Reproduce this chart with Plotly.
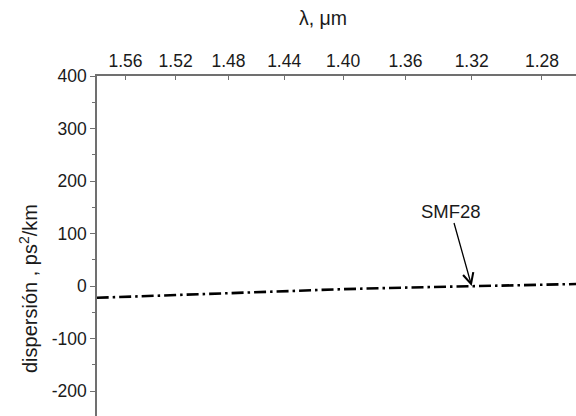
import plotly.graph_objects as go

# Wavelength samples (um) and group-velocity dispersion beta2 (ps^2/km) of SMF28
wavelength_um = [1.584, 1.56, 1.52, 1.48, 1.44, 1.40, 1.36, 1.32, 1.28, 1.261]
beta2_smf28 = [-22.5, -20.5, -17.0, -13.5, -10.0, -6.0, -3.0, 0.0, 2.5, 3.8]

# Wavelength tick labels on the top axis (axis is linear in optical frequency)
tick_wavelengths = [1.56, 1.52, 1.48, 1.44, 1.40, 1.36, 1.32, 1.28]
y_ticks = [400, 300, 200, 100, 0, -100, -200]

inv = lambda lam: 1.0 / lam  # inverse wavelength, um^-1

FONT = "Liberation Sans, Arial, sans-serif"
AXIS_GRAY = "#707070"
TEXT = "#1a1a1a"

fig = go.Figure()
fig.add_trace(go.Scatter(
    x=[inv(l) for l in wavelength_um],
    y=beta2_smf28,
    mode="lines",
    line=dict(color="black", width=2.6, dash="12px,4px,2.5px,4px"),
    showlegend=False,
    hoverinfo="skip",
))

fig.update_layout(
    width=576, height=416,
    margin=dict(l=97, r=0, t=76, b=0),
    paper_bgcolor="white", plot_bgcolor="white",
    font=dict(family=FONT, size=17, color=TEXT),
    xaxis=dict(
        side="top",
        range=[0.63142, 0.79271],
        tickvals=[inv(l) for l in tick_wavelengths],
        ticktext=[f"{l:.2f}" for l in tick_wavelengths],
        ticks="inside", ticklen=4, tickwidth=1.2, tickcolor=AXIS_GRAY,
        showline=True, linecolor=AXIS_GRAY, linewidth=1.5,
        showgrid=False, zeroline=False,
        tickfont=dict(size=17.5, family=FONT, color=TEXT),
    ),
    yaxis=dict(
        range=[-247.6, 400],
        tickvals=y_ticks,
        ticktext=[str(v) for v in y_ticks],
        ticks="outside", ticklen=5, tickwidth=1.2, tickcolor=AXIS_GRAY,
        minor=dict(dtick=50, ticks="outside", ticklen=3, tickcolor=AXIS_GRAY, tickwidth=1),
        showline=True, linecolor=AXIS_GRAY, linewidth=1.5,
        showgrid=False, zeroline=False,
        tickfont=dict(size=17.5, family=FONT, color=TEXT),
    ),
    annotations=[
        dict(text="λ, μm", xref="paper", yref="paper",
             x=(323 - 97) / 479, y=1 + (76 - 18) / 340,
             xanchor="center", yanchor="middle", showarrow=False,
             font=dict(size=19.5, family=FONT, color=TEXT)),
        dict(text="dispersión , ps<sup>2</sup>/km", xref="paper", yref="paper",
             x=(28 - 97) / 479, y=(416 - 289) / 340, textangle=-90,
             xanchor="center", yanchor="middle", showarrow=False,
             font=dict(size=20, family=FONT, color=TEXT)),
        dict(text="SMF28", x=inv(1.32), y=0.0, xref="x", yref="y",
             ax=-21, ay=-75, showarrow=True,
             arrowhead=5, arrowsize=1.6, arrowwidth=1.3, arrowcolor="black",
             font=dict(size=18.5, family=FONT, color=TEXT)),
    ],
)

fig.write_html("out.html")
